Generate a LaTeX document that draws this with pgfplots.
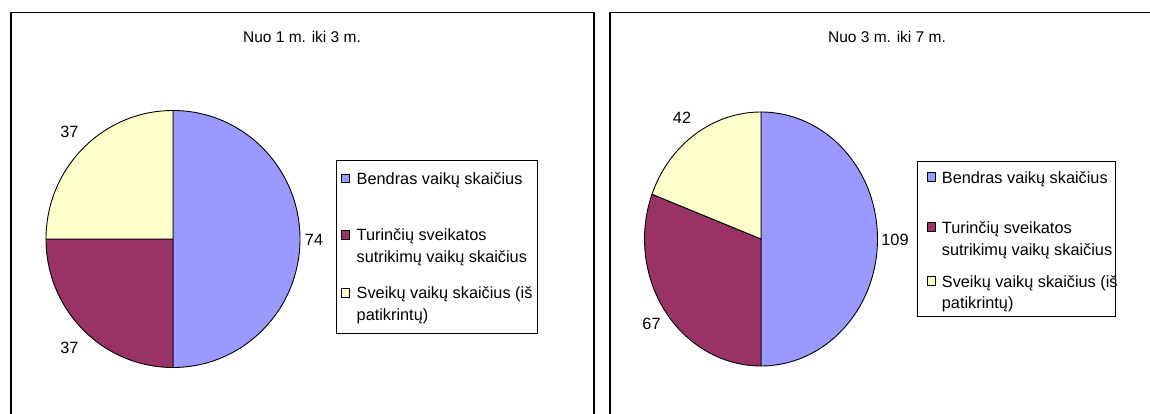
\documentclass[border=0pt]{standalone}
\usepackage{pgfplots}
\pgfplotsset{compat=1.18}
\usepackage{fontspec}
\setmainfont{Liberation Sans}
\definecolor{sBlue}{HTML}{9999FF}
\definecolor{sMaroon}{HTML}{993366}
\definecolor{sYellow}{HTML}{FFFFCC}
% data
\def\pAa{74}\def\pAb{37}\def\pAc{37}
\def\pBa{109}\def\pBb{67}\def\pBc{42}
\pgfmathsetmacro\TA{\pAa+\pAb+\pAc}
\pgfmathsetmacro\TB{\pBa+\pBb+\pBc}
\pgfmathsetmacro\aA{90-360*(\pAa/\TA)}
\pgfmathsetmacro\aB{\aA-360*(\pAb/\TA)}
\pgfmathsetmacro\aC{\aB-360*(\pAc/\TA)}
\pgfmathsetmacro\bA{90-360*(\pBa/\TB)}
\pgfmathsetmacro\bB{\bA-360*(\pBb/\TB)}
\pgfmathsetmacro\bC{\bB-360*(\pBc/\TB)}
% cx cy rx ry start end color
\newcommand\pieslice[7]{%
  \filldraw[fill=#7, draw=black, line width=0.9pt, line join=round]
    (axis cs:#1,#2) -- ([shift={(#5:#3pt and #4pt)}]axis cs:#1,#2)
    arc[start angle=#5, end angle=#6, x radius=#3pt, y radius=#4pt] -- cycle;}
\newcommand\lf{\fontsize{16.3pt}{19.6pt}\selectfont}
\newcommand\tf{\fontsize{15.5pt}{18.6pt}\selectfont}
\tikzset{lt/.style={anchor=west, inner sep=0pt, text height=11.7pt, text depth=0pt, font=\lf},
  lab/.style={inner sep=0pt, text height=11.7pt, text depth=0pt, font=\lf},
  mk/.style={draw=black, line width=0.8pt}}
\begin{document}
\begin{tikzpicture}
\useasboundingbox (0,0) rectangle (1150pt,414pt);
\begin{axis}[at={(0pt,0pt)}, anchor=south west, scale only axis,
  width=1150pt, height=414pt, xmin=0, xmax=1150, ymin=0, ymax=414,
  hide axis, clip=true]
% frames
\draw[line width=1.3pt] (axis cs:11,-10) -- (axis cs:11,401.3) -- (axis cs:594,401.3) -- (axis cs:594,-10);
\draw[line width=1.3pt] (axis cs:610,-10) -- (axis cs:610,401.3) -- (axis cs:1180,401.3);
% titles
\node[font=\tf, inner sep=0pt] at (axis cs:302,377) {Nuo 1 m. iki 3 m.};
\node[font=\tf, inner sep=0pt] at (axis cs:887,377) {Nuo 3 m. iki 7 m.};
% pie 1
\pieslice{173}{175}{127}{128.5}{90}{\aA}{sBlue}
\pieslice{173}{175}{127}{128.5}{\aA}{\aB}{sMaroon}
\pieslice{173}{175}{127}{128.5}{\aB}{\aC}{sYellow}
% pie 2
\pieslice{761}{175}{116.5}{127}{90}{\bA}{sBlue}
\pieslice{761}{175}{116.5}{127}{\bA}{\bB}{sMaroon}
\pieslice{761}{175}{116.5}{127}{\bB}{\bC}{sYellow}
% data labels
\node[lab] at (axis cs:314,174) {74};
\node[lab] at (axis cs:69.5,282) {37};
\node[lab] at (axis cs:69.5,66) {37};
\node[lab] at (axis cs:895,174) {109};
\node[lab] at (axis cs:682,296) {42};
\node[lab] at (axis cs:651.5,90) {67};
% legend 1
\draw[line width=1pt, fill=white] (axis cs:336,253) rectangle (axis cs:537,80);
\draw[mk, fill=sBlue] (axis cs:341,231.3) rectangle (axis cs:349.5,239.8);
\draw[mk, fill=sMaroon] (axis cs:341,174.8) rectangle (axis cs:349.5,183.3);
\draw[mk, fill=sYellow] (axis cs:341,116.8) rectangle (axis cs:349.5,125.3);
\node[lt] at (axis cs:356.5,235) {Bendras vaikų skaičius};
\node[lt] at (axis cs:356.5,179) {Turinčių sveikatos};
\node[lt] at (axis cs:356.5,157) {sutrikimų vaikų skaičius};
\node[lt] at (axis cs:356.5,121) {Sveikų vaikų skaičius (iš};
\node[lt] at (axis cs:356.5,99) {patikrintų)};
% legend 2
\draw[line width=1pt, fill=white] (axis cs:917,252) rectangle (axis cs:1115,97);
\draw[mk, fill=sBlue] (axis cs:927,232.8) rectangle (axis cs:935.5,241.3);
\draw[mk, fill=sMaroon] (axis cs:927,182.8) rectangle (axis cs:935.5,191.3);
\draw[mk, fill=sYellow] (axis cs:927,128.8) rectangle (axis cs:935.5,137.3);
\node[lt] at (axis cs:941.7,236) {Bendras vaikų skaičius};
\node[lt] at (axis cs:941.7,186) {Turinčių sveikatos};
\node[lt] at (axis cs:941.7,164) {sutrikimų vaikų skaičius};
\node[lt] at (axis cs:941.7,132) {Sveikų vaikų skaičius (iš};
\node[lt] at (axis cs:941.7,111) {patikrintų)};
\end{axis}
\end{tikzpicture}
\end{document}
